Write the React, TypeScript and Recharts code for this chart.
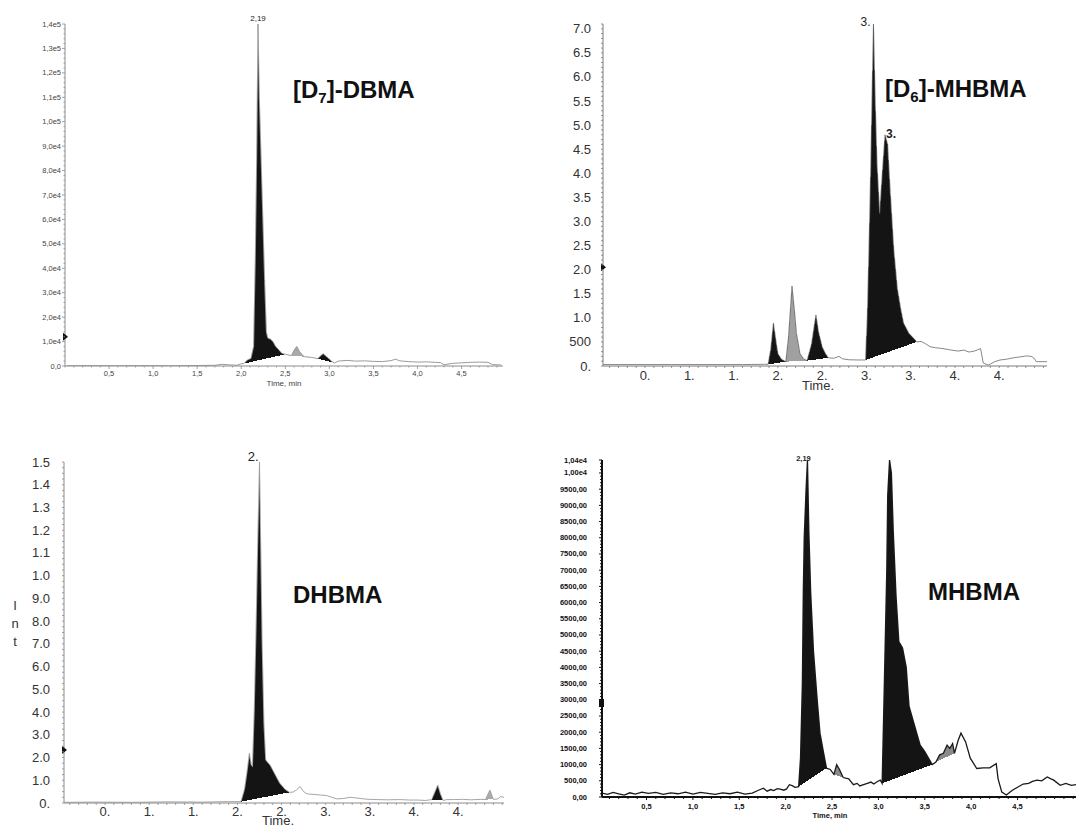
import React from 'react';
import { ComposedChart, Area, Line, XAxis, YAxis, ReferenceDot } from 'recharts';

const FONT = '"Liberation Sans", Arial, Helvetica, sans-serif';

// ---- [D7]-DBMA (top left) ----
const dbmaTrace = [
  [0.02, 100], [0.3, 150], [0.6, 100], [0.9, 150], [1.2, 100], [1.5, 200], [1.7, 300], [1.78, 700],
  [1.85, 500], [1.95, 300], [2.0, 900], [2.03, 1000], [2.07, 2500], [2.11, 3100], [2.14, 8000],
  [2.16, 45000], [2.175, 85000], [2.19, 140000], [2.205, 110000], [2.225, 85000], [2.245, 60000],
  [2.265, 35000], [2.285, 14000], [2.3, 11500], [2.33, 11000], [2.36, 10000], [2.39, 8000],
  [2.43, 6500], [2.46, 5200], [2.5, 4800], [2.54, 4500], [2.57, 4300], [2.6, 6500], [2.63, 8000],
  [2.66, 6000], [2.7, 4200], [2.72, 3800], [2.8, 3500], [2.87, 3000], [2.9, 4200], [2.93, 5000],
  [2.97, 3800], [3.0, 2800], [3.03, 1800], [3.06, 1200], [3.1, 2000], [3.2, 2300], [3.3, 2000],
  [3.4, 2100], [3.5, 1900], [3.6, 1800], [3.7, 2200], [3.75, 2800], [3.8, 2100], [3.9, 1800],
  [4.0, 1600], [4.1, 1700], [4.2, 1500], [4.26, 1400], [4.3, 500], [4.4, 1100], [4.5, 1300],
  [4.6, 1500], [4.7, 1600], [4.8, 1500], [4.85, 600], [4.95, 400],
];
const dbmaPeaks = [[2.03, 2.5, 'black'], [2.57, 2.72, 'gray'], [2.87, 3.06, 'black']];
const dbmaXTicks = [0.5, 1, 1.5, 2, 2.5, 3, 3.5, 4, 4.5];
const dbmaXLabels = ['0,5', '1,0', '1,5', '2,0', '2,5', '3,0', '3,5', '4,0', '4,5'];
const dbmaYTicks = [0, 10000, 20000, 30000, 40000, 50000, 60000, 70000, 80000, 90000, 100000, 110000, 120000, 130000, 140000];
const dbmaYLabels = ['0,0', '1,0e4', '2,0e4', '3,0e4', '4,0e4', '5,0e4', '6,0e4', '7,0e4', '8,0e4', '9,0e4', '1,0e5', '1,1e5', '1,2e5', '1,3e5', '1,4e5'];

// ---- [D6]-MHBMA (top right) ----
const d6Trace = [
  [0.03, 300], [0.4, 300], [0.8, 300], [1.2, 300], [1.6, 300], [1.85, 350], [1.89, 350], [1.92, 3500],
  [1.95, 8900], [1.98, 5000], [2.0, 2600], [2.04, 1400], [2.09, 900], [2.12, 6000], [2.16, 16600],
  [2.19, 11000], [2.21, 6800], [2.25, 2600], [2.29, 1500], [2.33, 1100], [2.38, 4500], [2.43, 10600],
  [2.46, 7000], [2.5, 4000], [2.54, 2500], [2.57, 1700], [2.63, 1600], [2.69, 2000], [2.73, 1500],
  [2.8, 1300], [2.9, 1250], [2.99, 1250], [3.01, 10000], [3.03, 25000], [3.05, 42000], [3.07, 62000],
  [3.08, 71000], [3.1, 55000], [3.12, 42000], [3.15, 31700], [3.18, 40000], [3.21, 48000],
  [3.24, 46000], [3.27, 36000], [3.31, 24000], [3.35, 16000], [3.39, 11600], [3.42, 8900],
  [3.48, 6800], [3.53, 5800], [3.57, 5000], [3.62, 5100], [3.67, 4600], [3.72, 4000], [3.78, 3800],
  [3.83, 3700], [3.9, 3500], [3.96, 3300], [4.04, 3100], [4.1, 3300], [4.16, 2900], [4.22, 3100],
  [4.29, 3600], [4.32, 600], [4.38, 200], [4.45, 900], [4.51, 1250], [4.58, 1400], [4.66, 1700],
  [4.74, 1900], [4.81, 2100], [4.86, 2000], [4.89, 1700], [4.92, 900], [5.04, 900],
];
const d6Peaks = [[1.89, 2.09, 'black'], [2.09, 2.33, 'gray'], [2.33, 2.57, 'black'], [2.99, 3.57, 'black']];
const truncXTicks = [0.5, 1, 1.5, 2, 2.5, 3, 3.5, 4, 4.5];
const truncXLabels = ['0.', '1.', '1.', '2.', '2.', '3.', '3.', '4.', '4.'];
const d6YTicks = [0, 5000, 10000, 15000, 20000, 25000, 30000, 35000, 40000, 45000, 50000, 55000, 60000, 65000, 70000];
const d6YLabels = ['0.', '500', '1.0', '1.5', '2.0', '2.5', '3.0', '3.5', '4.0', '4.5', '5.0', '5.5', '6.0', '6.5', '7.0'];

// ---- DHBMA (bottom left) ----
const dhbmaTrace = [
  [0.04, 300], [0.4, 400], [0.8, 300], [1.2, 500], [1.6, 400], [1.9, 600], [2.04, 600], [2.08, 6000],
  [2.11, 14000], [2.135, 21900], [2.155, 17000], [2.17, 16000], [2.19, 40000], [2.21, 75000],
  [2.23, 115000], [2.25, 150000], [2.265, 110000], [2.28, 70000], [2.3, 35000], [2.32, 19000],
  [2.35, 17500], [2.37, 16700], [2.4, 14500], [2.43, 12300], [2.48, 8700], [2.54, 6000], [2.59, 4700],
  [2.63, 4800], [2.67, 5800], [2.71, 7200], [2.75, 5000], [2.79, 4000], [2.86, 3800], [2.94, 3500],
  [3.01, 3300], [3.07, 2500], [3.125, 1800], [3.2, 2000], [3.28, 2500], [3.35, 2200], [3.43, 1800],
  [3.5, 1600], [3.58, 1500], [3.7, 1400], [3.84, 1500], [3.95, 1300], [4.04, 1300], [4.13, 1100],
  [4.2, 1500], [4.27, 7900], [4.3, 4000], [4.33, 1100], [4.37, 1500], [4.45, 1500], [4.55, 1600],
  [4.65, 1400], [4.75, 1600], [4.81, 1500], [4.86, 5700], [4.9, 1600], [4.95, 1800], [4.98, 2800],
  [5.02, 2500],
];
const dhbmaPeaks = [[2.04, 2.59, 'black'], [4.13, 4.33, 'black'], [4.81, 4.9, 'gray']];
const dhbmaYTicks = [0, 10000, 20000, 30000, 40000, 50000, 60000, 70000, 80000, 90000, 100000, 110000, 120000, 130000, 140000, 150000];
const dhbmaYLabels = ['0.', '1.0', '2.0', '3.0', '4.0', '5.0', '6.0', '7.0', '8.0', '9.0', '1.0', '1.1', '1.2', '1.3', '1.4', '1.5'];

// ---- MHBMA (bottom right) ----
const mhbmaTrace = [
  [0.02, 120], [0.08, 80], [0.14, 140], [0.2, 100], [0.26, 60], [0.32, 130], [0.38, 90], [0.45, 150],
  [0.52, 110], [0.6, 140], [0.68, 80], [0.76, 130], [0.84, 100], [0.92, 150], [1.0, 90], [1.08, 140],
  [1.16, 110], [1.24, 80], [1.32, 130], [1.4, 100], [1.48, 150], [1.56, 90], [1.64, 120], [1.7, 200],
  [1.76, 270], [1.8, 180], [1.84, 230], [1.87, 200], [1.91, 260], [1.94, 240], [1.98, 210], [2.01, 250],
  [2.04, 380], [2.07, 350], [2.1, 300], [2.14, 320], [2.16, 1200], [2.18, 3500], [2.19, 6300],
  [2.2, 8000], [2.22, 9500], [2.235, 10400], [2.25, 8200], [2.27, 6300], [2.3, 4500], [2.34, 3000],
  [2.37, 1970], [2.41, 1350], [2.44, 890], [2.48, 850], [2.52, 700], [2.55, 1000], [2.58, 850],
  [2.62, 600], [2.68, 560], [2.73, 380], [2.77, 420], [2.8, 340], [2.84, 380], [2.88, 420], [2.92, 460],
  [2.95, 400], [2.99, 480], [3.02, 520], [3.04, 420], [3.06, 3000], [3.09, 7000], [3.1, 9300],
  [3.12, 10400], [3.14, 10000], [3.16, 8200], [3.19, 6200], [3.22, 4800], [3.26, 4600], [3.3, 4000],
  [3.33, 2800], [3.4, 2100], [3.45, 1600], [3.5, 1400], [3.54, 1200], [3.58, 1000], [3.62, 1080],
  [3.66, 1300], [3.7, 1350], [3.74, 1600], [3.77, 1500], [3.8, 1650], [3.82, 1350], [3.86, 1750],
  [3.89, 1970], [3.94, 1700], [3.99, 1200], [4.06, 880], [4.13, 900], [4.2, 900], [4.27, 1030],
  [4.29, 560], [4.33, 150], [4.38, 60], [4.44, 200], [4.5, 300], [4.56, 400], [4.62, 420], [4.66, 480],
  [4.71, 520], [4.76, 500], [4.82, 620], [4.86, 560], [4.89, 520], [4.96, 360], [5.02, 420],
  [5.08, 360], [5.13, 380],
];
const mhbmaPeaks = [[2.14, 2.44, 'black'], [2.52, 2.62, 'gray'], [3.04, 3.58, 'black'], [3.62, 3.82, 'gray']];
const mhbmaXLabels = ['0,5', '1,0', '1,5', '2,0', '2,5', '3,0', '3,5', '4,0', '4,5'];
const mhbmaYTicks = [0, 500, 1000, 1500, 2000, 2500, 3000, 3500, 4000, 4500, 5000, 5500, 6000, 6500, 7000, 7500, 8000, 8500, 9000, 9500, 10000, 10400];
const mhbmaYLabels = ['0,00', '500,00', '1000,00', '1500,00', '2000,00', '2500,00', '3000,00', '3500,00', '4000,00', '4500,00', '5000,00', '5500,00', '6000,00', '6500,00', '7000,00', '7500,00', '8000,00', '8500,00', '9000,00', '9500,00', '1,00e4', '1,04e4'];

const key = (v: number) => v.toFixed(4);

function withMinor(major: number[], domain: number[], step: number) {
  const out = [...major];
  const seen = new Set(major.map(key));
  const n = Math.floor((domain[1] - domain[0]) / step) + 2;
  const first = Math.ceil(domain[0] / step);
  for (let i = 0; i < n; i++) {
    const v = Math.round((first + i) * step * 1e6) / 1e6;
    if (v < domain[0] || v > domain[1] || seen.has(key(v))) continue;
    out.push(v);
  }
  return out.sort((a, b) => a - b);
}

function buildRows(trace: number[][], peaks: any[]) {
  return trace.map(([t, v]) => {
    const row: any = { t, v };
    peaks.forEach(([a, b, c], i) => {
      if (t >= a - 1e-9 && t <= b + 1e-9) row[c === 'black' ? 'blk' : 'gry'] = v;
      if (Math.abs(t - a) < 1e-9 || Math.abs(t - b) < 1e-9) row['b' + i] = v;
    });
    return row;
  });
}

function Chromatogram(p: any) {
  const rows = buildRows(p.trace, p.peaks);
  const xAll = withMinor(p.xTicks, p.xDomain, p.xMinor);
  const yAll = withMinor(p.yTicks, p.yDomain, p.yMinor);
  const xMap = new Map(p.xTicks.map((t: number, i: number) => [key(t), p.xLabels[i]]));
  const yMap = new Map(p.yTicks.map((t: number, i: number) => [key(t), p.yLabels[i]]));
  const f = p.font;

  const XTick = (props: any) => {
    const { x, y, payload } = props;
    const lab = xMap.get(key(payload.value));
    const len = lab !== undefined ? p.majorLen : p.minorLen;
    return (
      <g>
        <line x1={x} x2={x} y1={y} y2={y + len} stroke={p.axisColor} strokeWidth={p.tickWidth} />
        {lab !== undefined && (
          <text x={x} y={y + p.xLabelDy} textAnchor="middle" fontSize={f.size} fontWeight={f.weight} fill={f.color} fontFamily={FONT}>
            {lab}
          </text>
        )}
      </g>
    );
  };

  const YTick = (props: any) => {
    const { x, y, payload } = props;
    const lab = yMap.get(key(payload.value));
    const len = lab !== undefined ? p.majorLen : p.minorLen;
    return (
      <g>
        <line x1={x - len} x2={x} y1={y} y2={y} stroke={p.axisColor} strokeWidth={p.tickWidth} />
        {lab !== undefined && (
          <text x={x - p.yLabelGap} y={y + p.yLabelDy} textAnchor="end" fontSize={f.size} fontWeight={f.weight} fill={f.color} fontFamily={FONT}>
            {lab}
          </text>
        )}
      </g>
    );
  };

  const marker = (s: any) =>
    p.marker.kind === 'sq' ? (
      <rect x={s.cx - 3} y={s.cy - 4} width={5} height={8} fill="#111" />
    ) : (
      <path d={`M${s.cx - 2},${s.cy - 4} L${s.cx + 3},${s.cy} L${s.cx - 2},${s.cy + 4} Z`} fill="#111" />
    );

  return (
    <div style={{ position: 'absolute', left: p.left, top: p.top, width: p.width, height: p.height }}>
      <ComposedChart width={p.width} height={p.height} data={rows} margin={p.margin} style={{ overflow: 'visible' }}>
        <XAxis
          dataKey="t"
          type="number"
          domain={p.xDomain}
          allowDataOverflow
          ticks={xAll}
          interval={0}
          height={p.xHeight}
          tickSize={0}
          tickMargin={0}
          tickLine={false}
          tick={XTick}
          axisLine={{ stroke: p.axisColor, strokeWidth: p.axisWidth }}
        />
        <YAxis
          type="number"
          domain={p.yDomain}
          allowDataOverflow
          ticks={yAll}
          interval={0}
          width={p.yWidth}
          tickSize={0}
          tickMargin={0}
          tickLine={false}
          tick={YTick}
          axisLine={{ stroke: p.axisColor, strokeWidth: p.axisWidth }}
        />
        <Area dataKey="blk" type="linear" fill="#141414" fillOpacity={1} stroke="none" shapeRendering="crispEdges" dot={false} activeDot={false} isAnimationActive={false} />
        <Area dataKey="gry" type="linear" fill={p.grayFill} fillOpacity={1} stroke="none" shapeRendering="crispEdges" dot={false} activeDot={false} isAnimationActive={false} />
        {p.peaks.map((_: any, i: number) => (
          <Area key={i} dataKey={'b' + i} type="linear" connectNulls fill="#ffffff" fillOpacity={1} stroke="none" shapeRendering="crispEdges" dot={false} activeDot={false} isAnimationActive={false} />
        ))}
        <Line dataKey="v" type="linear" stroke={p.traceColor} strokeWidth={p.traceWidth} dot={false} activeDot={false} isAnimationActive={false} />
        <ReferenceDot x={p.xDomain[0]} y={p.marker.y} r={3} ifOverflow="visible" shape={marker} />
        {p.peakLabels.map((l: any, i: number) => (
          <ReferenceDot
            key={'pl' + i}
            x={l.x}
            y={l.y}
            r={1}
            ifOverflow="visible"
            shape={(s: any) => (
              <text x={s.cx + l.dx} y={s.cy + l.dy} textAnchor={l.anchor} fontSize={l.size} fontWeight={l.weight} fill="#222" fontFamily={FONT}>
                {l.text}
              </text>
            )}
          />
        ))}
      </ComposedChart>
    </div>
  );
}

const panels = [
  {
    left: 0, top: 0, width: 540, height: 400,
    margin: { top: 24, right: 37, bottom: 0, left: 0 }, yWidth: 65, xHeight: 34,
    xDomain: [0, 4.97], yDomain: [0, 140000], xMinor: 0.1, yMinor: 2000,
    trace: dbmaTrace, peaks: dbmaPeaks,
    xTicks: dbmaXTicks, xLabels: dbmaXLabels, yTicks: dbmaYTicks, yLabels: dbmaYLabels,
    axisColor: '#8c8c8c', axisWidth: 1, tickWidth: 0.8, majorLen: 3, minorLen: 1.5,
    traceColor: '#9a9a9a', traceWidth: 1, grayFill: '#a8a8a8',
    font: { size: 7.5, weight: 400, color: '#444' }, yLabelGap: 4, yLabelDy: 2.5, xLabelDy: 10,
    marker: { y: 12000, kind: 'tri' },
    peakLabels: [{ x: 2.19, y: 140000, text: '2,19', anchor: 'middle', dx: 0, dy: -3, size: 8, weight: 400 }],
  },
  {
    left: 540, top: 0, width: 537, height: 400,
    margin: { top: 24, right: 30, bottom: 0, left: 0 }, yWidth: 63, xHeight: 34,
    xDomain: [0.025, 5.04], yDomain: [0, 71000], xMinor: 0.1, yMinor: 1000,
    trace: d6Trace, peaks: d6Peaks,
    xTicks: truncXTicks, xLabels: truncXLabels, yTicks: d6YTicks, yLabels: d6YLabels,
    axisColor: '#7a7a7a', axisWidth: 1, tickWidth: 0.8, majorLen: 2, minorLen: 2,
    traceColor: '#6a6a6a', traceWidth: 0.8, grayFill: '#a0a0a0',
    font: { size: 13, weight: 400, color: '#333' }, yLabelGap: 12, yLabelDy: 4.5, xLabelDy: 14,
    marker: { y: 20500, kind: 'tri' },
    peakLabels: [
      { x: 3.08, y: 71000, text: '3.', anchor: 'end', dx: -3, dy: 2, size: 12, weight: 400 },
      { x: 3.21, y: 48000, text: '3.', anchor: 'start', dx: 1, dy: 3, size: 12, weight: 700 },
    ],
  },
  {
    left: 0, top: 400, width: 540, height: 427,
    margin: { top: 62, right: 36, bottom: 0, left: 0 }, yWidth: 64, xHeight: 24,
    xDomain: [0.035, 5.02], yDomain: [0, 150000], xMinor: 0.1, yMinor: 2500,
    trace: dhbmaTrace, peaks: dhbmaPeaks,
    xTicks: truncXTicks, xLabels: truncXLabels, yTicks: dhbmaYTicks, yLabels: dhbmaYLabels,
    axisColor: '#8a8a8a', axisWidth: 1, tickWidth: 0.8, majorLen: 2, minorLen: 2,
    traceColor: '#a5a5a5', traceWidth: 1, grayFill: '#aaaaaa',
    font: { size: 13, weight: 400, color: '#333' }, yLabelGap: 14, yLabelDy: 4.5, xLabelDy: 13,
    marker: { y: 23300, kind: 'tri' },
    peakLabels: [{ x: 2.25, y: 150000, text: '2.', anchor: 'end', dx: -1, dy: -1, size: 13, weight: 400 }],
  },
  {
    left: 540, top: 400, width: 537, height: 427,
    margin: { top: 60, right: 1, bottom: 0, left: 0 }, yWidth: 62, xHeight: 30,
    xDomain: [0.02, 5.13], yDomain: [0, 10400], xMinor: 0.1, yMinor: 100,
    trace: mhbmaTrace, peaks: mhbmaPeaks,
    xTicks: dbmaXTicks, xLabels: mhbmaXLabels, yTicks: mhbmaYTicks, yLabels: mhbmaYLabels,
    axisColor: '#111', axisWidth: 2, tickWidth: 1, majorLen: 3, minorLen: 2,
    traceColor: '#1a1a1a', traceWidth: 1.3, grayFill: '#8a8a8a',
    font: { size: 7.5, weight: 700, color: '#111' }, yLabelGap: 15, yLabelDy: 2.5, xLabelDy: 12,
    marker: { y: 2900, kind: 'sq' },
    peakLabels: [{ x: 2.235, y: 10400, text: '2,19', anchor: 'middle', dx: -4, dy: 1, size: 7.5, weight: 700 }],
  },
];

export default function App() {
  const title = { fontFamily: FONT, fontSize: 24, fontWeight: 700, fill: '#111' } as any;
  return (
    <div style={{ position: 'absolute', left: 0, top: 0, width: 1077, height: 827, background: '#fff', overflow: 'hidden' }}>
      {panels.map((p, i) => (
        <Chromatogram key={i} {...p} />
      ))}
      <svg width={1077} height={827} style={{ position: 'absolute', left: 0, top: 0, pointerEvents: 'none' }}>
        <text x={293} y={98} {...title}>
          [D<tspan dy={5} fontSize={15}>7</tspan>
          <tspan dy={-5}>]-DBMA</tspan>
        </text>
        <text x={885} y={97} {...title}>
          [D<tspan dy={5} fontSize={15}>6</tspan>
          <tspan dy={-5}>]-MHBMA</tspan>
        </text>
        <text x={293} y={603} {...title}>DHBMA</text>
        <text x={928} y={600} {...title}>MHBMA</text>

        <text x={284} y={386} textAnchor="middle" fontFamily={FONT} fontSize={8} fill="#444">Time, min</text>
        <text x={818} y={390} textAnchor="middle" fontFamily={FONT} fontSize={13} fill="#333">Time.</text>
        <text x={278} y={825} textAnchor="middle" fontFamily={FONT} fontSize={13} fill="#333">Time.</text>
        <text x={830} y={818} textAnchor="middle" fontFamily={FONT} fontSize={7.5} fontWeight={700} fill="#111">Time, min</text>

        <text x={15} y={610} textAnchor="middle" fontFamily={FONT} fontSize={13} fill="#333">I</text>
        <text x={15} y={628} textAnchor="middle" fontFamily={FONT} fontSize={13} fill="#333">n</text>
        <text x={15} y={646} textAnchor="middle" fontFamily={FONT} fontSize={13} fill="#333">t</text>
      </svg>
    </div>
  );
}
